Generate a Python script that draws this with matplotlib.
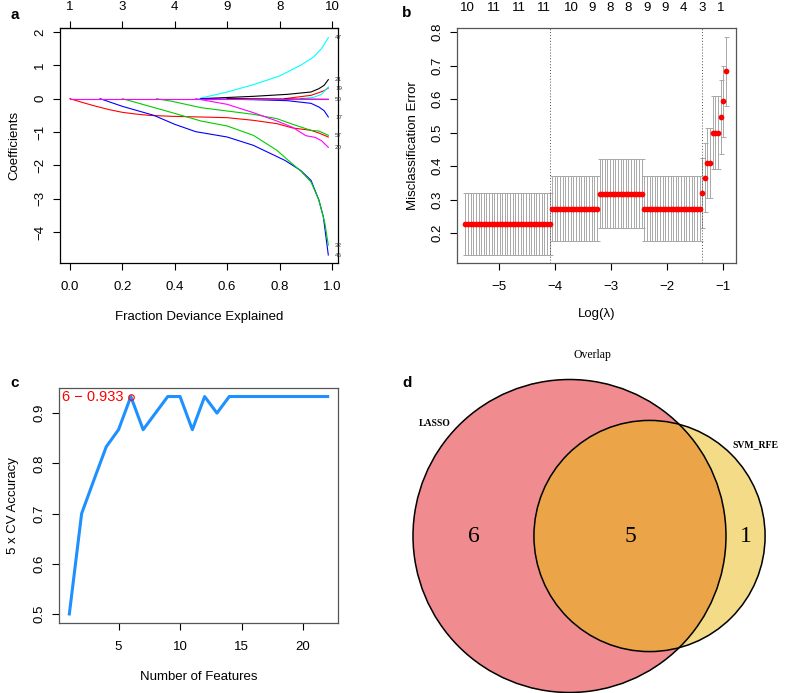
import numpy as np
import matplotlib.pyplot as plt
from matplotlib.patches import Circle

plt.rcParams['font.family'] = ['Liberation Sans', 'DejaVu Sans']
plt.rcParams['font.size'] = 9.5

W, H = 786, 693

# ---------------- a: LASSO coefficient paths ----------------
frac_ticks = [0.0, 0.2, 0.4, 0.6, 0.8, 1.0]
df_top = [1, 3, 4, 9, 8, 10]

red1_f = [0, 0.05, 0.1, 0.15, 0.2, 0.25, 0.3, 0.39, 0.5, 0.6, 0.7, 0.79, 0.85, 0.92, 0.95, 0.986]
red1_c = [0, -0.12, -0.23, -0.33, -0.41, -0.46, -0.5, -0.53, -0.55, -0.57, -0.65, -0.75, -0.88, -0.95, -1.03, -1.15]
blue1_f = [0.115, 0.2, 0.32, 0.4, 0.48, 0.6, 0.7, 0.74, 0.82, 0.88, 0.92, 0.95, 0.967, 0.986]
blue1_c = [0, -0.23, -0.5, -0.77, -0.99, -1.15, -1.4, -1.55, -1.85, -2.15, -2.45, -3.04, -3.54, -4.69]
green1_f = [0.2, 0.3, 0.39, 0.5, 0.6, 0.7, 0.79, 0.833, 0.878, 0.92, 0.95, 0.973, 0.986]
green1_c = [0, -0.22, -0.42, -0.67, -0.82, -1.1, -1.55, -1.85, -2.15, -2.5, -3.04, -3.74, -4.39]
green2_f = [0.33, 0.39, 0.5, 0.6, 0.7, 0.79, 0.85, 0.92, 0.95, 0.986]
green2_c = [0, -0.08, -0.27, -0.37, -0.47, -0.6, -0.77, -0.95, -0.97, -1.1]
magenta2_f = [0.48, 0.6, 0.7, 0.79, 0.85, 0.9, 0.935, 0.96, 0.986]
magenta2_c = [0, -0.17, -0.42, -0.67, -0.86, -1.11, -1.16, -1.26, -1.46]
cyan1_f = [0.49, 0.6, 0.7, 0.8, 0.88, 0.93, 0.96, 0.986]
cyan1_c = [0, 0.2, 0.42, 0.68, 1.0, 1.25, 1.5, 1.83]
black1_f = [0.5, 0.7, 0.83, 0.92, 0.95, 0.97, 0.986]
black1_c = [0, 0.07, 0.13, 0.2, 0.3, 0.4, 0.57]
red2_f = [0.82, 0.92, 0.95, 0.97, 0.986]
red2_c = [0, 0.1, 0.18, 0.24, 0.32]
cyan2_f = [0.88, 0.93, 0.96, 0.986]
cyan2_c = [0, 0.04, 0.13, 0.35]
blue2_f = [0.5, 0.7, 0.83, 0.92, 0.95, 0.97, 0.986]
blue2_c = [0, -0.03, -0.06, -0.14, -0.25, -0.36, -0.55]
black2_f = [0.6, 0.8, 0.986]
black2_c = [0, -0.01, -0.02]
magenta1_f = [0, 0.986]
magenta1_c = [0, 0]

paths = [
    (red1_f, red1_c, '#FF0000', None),
    (blue1_f, blue1_c, '#0000FF', '46'),
    (green1_f, green1_c, '#00CD00', '32'),
    (green2_f, green2_c, '#00CD00', '57'),
    (magenta2_f, magenta2_c, '#FF00FF', '20'),
    (cyan1_f, cyan1_c, '#00FFFF', '47'),
    (black1_f, black1_c, '#000000', '21'),
    (red2_f, red2_c, '#FF0000', '19'),
    (cyan2_f, cyan2_c, '#00FFFF', None),
    (blue2_f, blue2_c, '#0000FF', '17'),
    (black2_f, black2_c, '#000000', '50'),
    (magenta1_f, magenta1_c, '#FF00FF', None),
]

# ---------------- b: cross-validation curve ----------------
lam_min, lam_max, n_lam = -5.6, -0.95, 100
cv_edge = [-4.065, -3.205, -2.43, -1.40, -1.345, -1.30, -1.205, -1.065, -1.02, -0.975, 0.0]
cv_mean = [0.227, 0.273, 0.318, 0.273, 0.32, 0.365, 0.41, 0.50, 0.546, 0.593, 0.683]
cv_sd = [0.093, 0.097, 0.102, 0.097, 0.105, 0.103, 0.105, 0.11, 0.11, 0.105, 0.103]
top_lam = [-5.57, -5.09, -4.64, -4.2, -3.7, -3.34, -3.02, -2.69, -2.36, -2.04, -1.71, -1.38, -1.05]
top_nz = [10, 11, 11, 11, 10, 9, 8, 8, 9, 9, 4, 3, 1]

# ---------------- c: SVM-RFE accuracy ----------------
n_features = list(range(1, 23))
cv_acc = [0.5, 0.7, 0.767, 0.833, 0.867, 0.933, 0.867, 0.9, 0.933, 0.933, 0.867,
          0.933, 0.9, 0.933, 0.933, 0.933, 0.933, 0.933, 0.933, 0.933, 0.933, 0.933]

# ---------------- d: Venn ----------------
venn_sets = ['LASSO', 'SVM_RFE']
only_lasso, both, only_svm = 6, 5, 1


def px_rect(x0, y0, x1, y1):
    return [x0 / W, 1 - y1 / H, (x1 - x0) / W, (y1 - y0) / H]


def r_style(ax, edge='black'):
    for s in ax.spines.values():
        s.set_color(edge)
        s.set_linewidth(0.9)
    ax.tick_params(direction='out', length=5, width=0.8, pad=5, labelsize=9.5)
    ax.tick_params(axis='x', pad=8)
    ax.tick_params(axis='y', labelrotation=90)
    for t in ax.get_yticklabels():
        t.set_verticalalignment('center')


fig = plt.figure(figsize=(W / 100, H / 100), dpi=100)

# panel a
ax = fig.add_axes(px_rect(60, 28, 338, 263))
for f, c, col, lab in paths:
    ax.plot(f, c, color=col, lw=0.8)
    if lab:
        ax.text(1.012, c[-1], lab, fontsize=4.5, color='#333333', va='center', ha='left')
ax.set_xlim(-0.038, 1.023)
ax.set_ylim(-4.93, 2.12)
ax.set_xticks(frac_ticks)
ax.set_yticks([-4, -3, -2, -1, 0, 1, 2])
ax.set_xlabel('Fraction Deviance Explained', labelpad=13)
ax.set_ylabel('Coefficients', labelpad=10)
r_style(ax)
top = ax.secondary_xaxis('top')
top.set_xticks(frac_ticks, [str(d) for d in df_top])
top.tick_params(direction='out', length=5, width=0.8, pad=6, labelsize=9.5)
fig.text(15 / W, 1 - 15 / H, 'a', fontsize=11, fontweight='bold', ha='center', va='center')

# panel b
loglam = np.linspace(lam_min, lam_max, n_lam)
idx = np.searchsorted(cv_edge, loglam)
cvm = np.array(cv_mean)[idx]
cvs = np.array(cv_sd)[idx]
best = cvm.min()
lam_best = loglam[cvm == best].max()
lam_1se = loglam[cvm <= best + cvs[cvm == best][0] + 1e-9].max()

ax = fig.add_axes(px_rect(457, 28, 736, 263))
ax.errorbar(loglam, cvm, yerr=cvs, fmt='none', ecolor='#A8A8A8', elinewidth=0.7,
            capsize=1.8, capthick=0.7)
ax.scatter(loglam, cvm, s=17, color='red', zorder=3, linewidths=0)
ax.axvline(lam_best, color='#555555', ls=(0, (1, 2)), lw=0.7)
ax.axvline(lam_1se, color='#555555', ls=(0, (1, 2)), lw=0.7)
ax.set_xlim(-5.75, -0.768)
ax.set_ylim(0.111, 0.812)
ax.set_xticks([-5, -4, -3, -2, -1])
ax.set_yticks([0.2, 0.3, 0.4, 0.5, 0.6, 0.7, 0.8])
ax.set_xlabel('Log(λ)', labelpad=11)
ax.set_ylabel('Misclassification Error', labelpad=9)
r_style(ax, '#555555')
top = ax.secondary_xaxis('top')
top.set_xticks(top_lam, [str(n) for n in top_nz])
top.tick_params(length=0, pad=10, labelsize=9.5)
top.spines['top'].set_visible(False)
fig.text(407 / W, 1 - 13 / H, 'b', fontsize=11, fontweight='bold', ha='center', va='center')

# panel c
ax = fig.add_axes(px_rect(59, 388, 338, 623))
ax.plot(n_features, cv_acc, color='#1E90FF', lw=2.2)
k = int(np.argmax(cv_acc))
ax.plot(n_features[k], cv_acc[k], 'o', mfc='none', mec='red', ms=4, mew=0.8)
ax.annotate('%d \u2212 %.3f' % (n_features[k], cv_acc[k]), (n_features[k], cv_acc[k]),
            xytext=(-5, 0), textcoords='offset points', ha='right', va='center',
            color='red', fontsize=10.5)
ax.set_xlim(0.16, 22.84)
ax.set_ylim(0.482, 0.95)
ax.set_xticks([5, 10, 15, 20])
ax.set_yticks([0.5, 0.6, 0.7, 0.8, 0.9])
ax.set_xlabel('Number of Features', labelpad=13)
ax.set_ylabel('5 x CV Accuracy', labelpad=10)
r_style(ax, '#555555')
fig.text(15 / W, 1 - 383 / H, 'c', fontsize=11, fontweight='bold', ha='center', va='center')

# panel d: area-proportional Venn
ax = fig.add_axes(px_rect(390, 330, 786, 693))
ax.set_xlim(390, 786)
ax.set_ylim(693, 330)
ax.axis('off')

n_lasso = only_lasso + both
n_svm = only_svm + both
scale = 156.5 / np.sqrt(n_lasso)
r1 = scale * np.sqrt(n_lasso)
r2 = scale * np.sqrt(n_svm)
target = both * np.pi * r1 ** 2 / n_lasso


def lens(d):
    a1 = r1 ** 2 * np.arccos((d * d + r1 * r1 - r2 * r2) / (2 * d * r1))
    a2 = r2 ** 2 * np.arccos((d * d + r2 * r2 - r1 * r1) / (2 * d * r2))
    a3 = 0.5 * np.sqrt((-d + r1 + r2) * (d + r1 - r2) * (d - r1 + r2) * (d + r1 + r2))
    return a1 + a2 - a3


lo, hi = abs(r1 - r2) + 1e-6, r1 + r2
for _ in range(80):
    mid = (lo + hi) / 2
    if lens(mid) > target:
        lo = mid
    else:
        hi = mid
dist = (lo + hi) / 2

cx1, cy = 569.5, 536
cx2 = cx1 + dist
c1 = Circle((cx1, cy), r1, facecolor='#F08B8F', edgecolor='none')
c2 = Circle((cx2, cy), r2, facecolor='#F3DB87', edgecolor='none')
ax.add_patch(c1)
ax.add_patch(c2)
c3 = Circle((cx2, cy), r2, facecolor='#EBA448', edgecolor='none')
ax.add_patch(c3)
c3.set_clip_path(c1)
ax.add_patch(Circle((cx1, cy), r1, facecolor='none', edgecolor='black', lw=1.1, clip_on=False))
ax.add_patch(Circle((cx2, cy), r2, facecolor='none', edgecolor='black', lw=1.1))

serif = ['Liberation Serif', 'DejaVu Serif']
ax.text(((cx1 - r1) + (cx2 - r2)) / 2, cy, str(only_lasso), family=serif, fontsize=17,
        ha='center', va='center')
ax.text(((cx2 - r2) + (cx1 + r1)) / 2, cy, str(both), family=serif, fontsize=17,
        ha='center', va='center')
ax.text(((cx1 + r1) + (cx2 + r2)) / 2, cy, str(only_svm), family=serif, fontsize=17,
        ha='center', va='center')
ax.text(435, 423, venn_sets[0], family=serif, fontsize=7, fontweight='bold', ha='center', va='center')
ax.text(755, 445, venn_sets[1], family=serif, fontsize=7, fontweight='bold', ha='center', va='center')
ax.text(592, 355, 'Overlap', family=serif, fontsize=8.5, ha='center', va='center')
ax.text(407, 383, 'd', fontsize=11, fontweight='bold', ha='center', va='center')

fig.savefig('out.png', dpi=100)
